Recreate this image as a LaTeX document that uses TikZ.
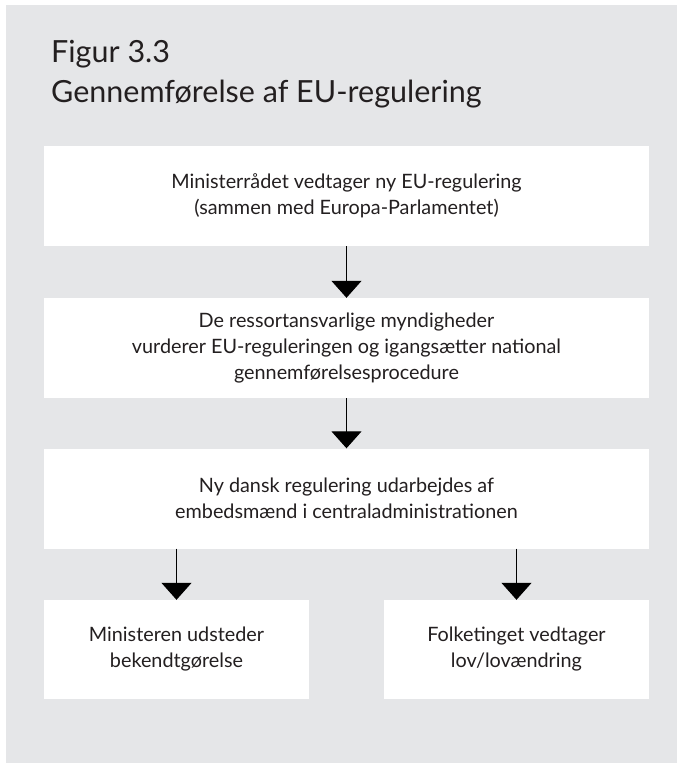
\documentclass[tikz,border=0pt]{standalone}
\usepackage{fontspec}
\setmainfont{Lato}
\usetikzlibrary{arrows.meta}
\definecolor{bggray}{RGB}{229,230,232}
\definecolor{txt}{RGB}{35,31,32}
\tikzset{
  box/.style={draw=none, fill=white, rectangle, align=center, text=txt,
    font=\fontsize{19.8}{26}\selectfont, inner sep=0pt},
  bigbox/.style={box, minimum width=605pt, minimum height=100pt},
  smallbox/.style={box, minimum width=265pt, minimum height=99pt},
  flow/.style={line width=1.3pt, -{Triangle[width=30pt,length=17pt]}},
  titletext/.style={anchor=base west, inner sep=0pt, text=txt, font=\fontsize{30.5}{40}\selectfont}
}
\begin{document}
\begin{tikzpicture}[x=1pt,y=-1pt]
\useasboundingbox (0,0) rectangle (677,763);
\fill[bggray] (6,5) rectangle (677,763);
\node[titletext] (t1) at (51,62) {Figur 3.3};
\node[titletext] (t2) at (51,102) {Gennemførelse af EU-regulering};
\node[bigbox] (b1) at (346.5,196) {Ministerrådet vedtager ny EU-regulering\\(sammen med Europa-Parlamentet)};
\node[bigbox] (b2) at (346.5,348) {De ressortansvarlige myndigheder\\vurderer EU-reguleringen og igangsætter national\\gennemførelsesprocedure};
\node[bigbox] (b3) at (346.5,498.5) {Ny dansk regulering udarbejdes af\\embedsmænd i centraladministrationen};
\node[smallbox] (b4) at (176.5,649.5) {Ministeren udsteder\\bekendtgørelse};
\node[smallbox] (b5) at (516.5,649.5) {Folketinget vedtager\\lov/lovændring};
\draw[flow] (b1.south) -- (b2.north);
\draw[flow] (b2.south) -- (b3.north);
\draw[flow] (b3.south -| b4.north) -- (b4.north);
\draw[flow] (b3.south -| b5.north) -- (b5.north);
\end{tikzpicture}
\end{document}
